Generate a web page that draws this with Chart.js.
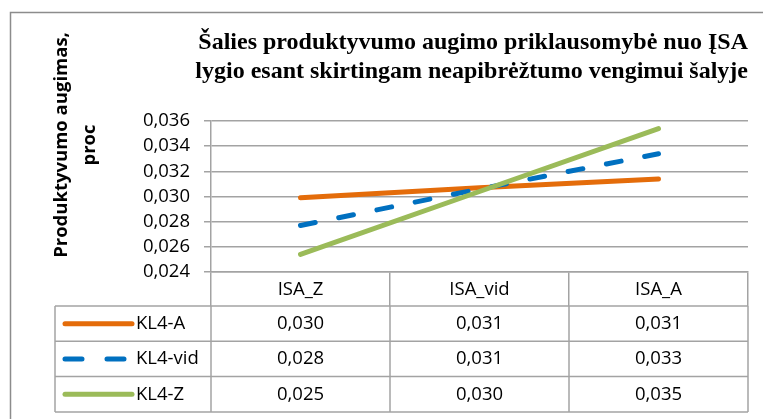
<!DOCTYPE html>
<html lang="lt">
<head>
<meta charset="utf-8">
<title>Šalies produktyvumo augimo priklausomybė nuo ĮSA lygio</title>
<script src="https://cdn.jsdelivr.net/npm/chart.js@4"></script>
<style>
  html, body { margin: 0; padding: 0; background: #ffffff; }
  #wrap { width: 763px; height: 419px; }
</style>
</head>
<body>
<div id="wrap"><canvas id="chart-isa" width="763" height="419"></canvas></div>
<script>
const categories = ['ISA_Z', 'ISA_vid', 'ISA_A']
const seriesNames = ['KL4-A', 'KL4-vid', 'KL4-Z']
const kl4A = [0.0299, 0.0307, 0.0314]
const kl4Vid = [0.0277, 0.0306, 0.0334]
const kl4Z = [0.0254, 0.0304, 0.0354]
const yTicks = [0.024, 0.026, 0.028, 0.030, 0.032, 0.034, 0.036]

const titleLines = ['Šalies produktyvumo augimo priklausomybė nuo ĮSA', 'lygio esant skirtingam neapibrėžtumo vengimui šalyje']
const yTitleLines = ['Produktyvumo augimas,', 'proc']

const gridColor = '#a3a3a3'
const textFont = { family: 'Open Sans', size: 18.5, lineHeight: 1 }
const fmt = v => v.toFixed(3).replace('.', ',')

// outer frame + rotated axis title
const framePlugin = {
    id: 'frame',
    beforeDraw(chart) {
        const ctx = chart.ctx
        ctx.save()
        ctx.fillStyle = '#ffffff'
        ctx.fillRect(0, 0, chart.width, chart.height)
        ctx.strokeStyle = '#8c8c8c'
        ctx.lineWidth = 1.5
        ctx.strokeRect(10.5, 12.5, chart.width + 20, chart.height + 20)
        ctx.restore()
    },
    afterDraw(chart) {
        const ctx = chart.ctx
        ctx.save()
        ctx.fillStyle = '#000000'
        ctx.font = 'bold 18.5px "Open Sans"'
        ctx.textAlign = 'center'
        ctx.textBaseline = 'middle'
        yTitleLines.forEach((line, i) => {
            ctx.save()
            ctx.translate(62 + i * 28, 145)
            ctx.rotate(-Math.PI / 2)
            ctx.fillText(line, 0, 0)
            ctx.restore()
        })
        ctx.restore()
    }
}

// data table under the x axis
const tablePlugin = {
    id: 'dataTable',
    afterDraw(chart) {
        const ctx = chart.ctx
        const x = chart.scales.x
        const left = x.left
        const right = x.right
        const colW = (right - left) / categories.length
        const top = x.top + 34
        const rowH = 35.3
        const legendLeft = 55
        ctx.save()
        ctx.strokeStyle = gridColor
        ctx.lineWidth = 1.5
        for (let r = 0; r <= chart.data.datasets.length; r++) {
            const y = top + r * rowH
            ctx.beginPath()
            ctx.moveTo(legendLeft, y)
            ctx.lineTo(right, y)
            ctx.stroke()
        }
        const bottom = top + chart.data.datasets.length * rowH
        const vlines = [legendLeft]
        for (let c = 0; c <= categories.length; c++) vlines.push(left + c * colW)
        vlines.forEach(vx => {
            ctx.beginPath()
            ctx.moveTo(vx, top)
            ctx.lineTo(vx, bottom)
            ctx.stroke()
        })
        ctx.font = textFont.size + 'px "Open Sans"'
        ctx.textBaseline = 'middle'
        chart.data.datasets.forEach((ds, r) => {
            const cy = top + r * rowH + rowH / 2
            ctx.save()
            ctx.strokeStyle = ds.borderColor
            ctx.lineWidth = 5
            ctx.lineCap = 'round'
            if (ds.borderDash) ctx.setLineDash([17, 25])
            ctx.beginPath()
            ctx.moveTo(65, cy)
            ctx.lineTo(132, cy)
            ctx.stroke()
            ctx.restore()
            ctx.fillStyle = '#000000'
            ctx.textAlign = 'left'
            ctx.fillText(ds.label, 136, cy)
            ctx.textAlign = 'center'
            ds.data.forEach((v, c) => {
                ctx.fillText(fmt(v), left + c * colW + colW / 2, cy)
            })
        })
        ctx.restore()
    }
}

const chartIsa = document.getElementById('chart-isa')

if (chartIsa) {

    const chartContext = chartIsa.getContext('2d')

    new Chart(chartContext, {

        type: 'line',
        data: {
            labels: categories,
            datasets: [{
                label: seriesNames[0],
                data: kl4A,
                borderColor: '#e46c0a',
                borderWidth: 5,
                borderCapStyle: 'round',
                order: 3
            }, {
                label: seriesNames[1],
                data: kl4Vid,
                borderColor: '#0070c0',
                borderWidth: 5,
                borderDash: [15, 24],
                borderCapStyle: 'round',
                order: 2
            }, {
                label: seriesNames[2],
                data: kl4Z,
                borderColor: '#9bbb59',
                borderWidth: 5,
                borderCapStyle: 'round',
                order: 1
            }]
        },
        options: {
            responsive: false,
            animation: false,
            events: [],
            elements: {
                point: { radius: 0 },
                line: { tension: 0 }
            },
            layout: {
                padding: { top: 28, right: 15, bottom: 0, left: 0 }
            },
            plugins: {
                legend: { display: false },
                tooltip: { enabled: false },
                title: {
                    display: true,
                    text: titleLines,
                    align: 'end',
                    color: '#000000',
                    font: { family: 'Liberation Serif', size: 24, weight: 'bold', lineHeight: 1.21 },
                    padding: { top: 0, bottom: 35 }
                }
            },
            scales: {
                x: {
                    offset: true,
                    afterFit(scale) { scale.height = 147 },
                    grid: {
                        offset: true,
                        drawOnChartArea: false,
                        tickLength: 34,
                        color: gridColor,
                        lineWidth: 1.5
                    },
                    border: { display: true, color: gridColor, width: 1.5 },
                    ticks: {
                        color: '#000000',
                        font: textFont,
                        padding: -26,
                        maxRotation: 0
                    }
                },
                y: {
                    min: yTicks[0],
                    max: yTicks[yTicks.length - 1],
                    afterFit(scale) { scale.width = 211 },
                    afterBuildTicks(scale) { scale.ticks = yTicks.map(v => ({ value: v })) },
                    grid: {
                        color: gridColor,
                        lineWidth: 1.5,
                        tickLength: 7
                    },
                    border: { display: true, color: gridColor, width: 1.5 },
                    ticks: {
                        color: '#000000',
                        font: textFont,
                        padding: 14,
                        autoSkip: false,
                        callback: v => fmt(v)
                    }
                }
            }
        },
        plugins: [framePlugin, tablePlugin]

    })

}
</script>
</body>
</html>
